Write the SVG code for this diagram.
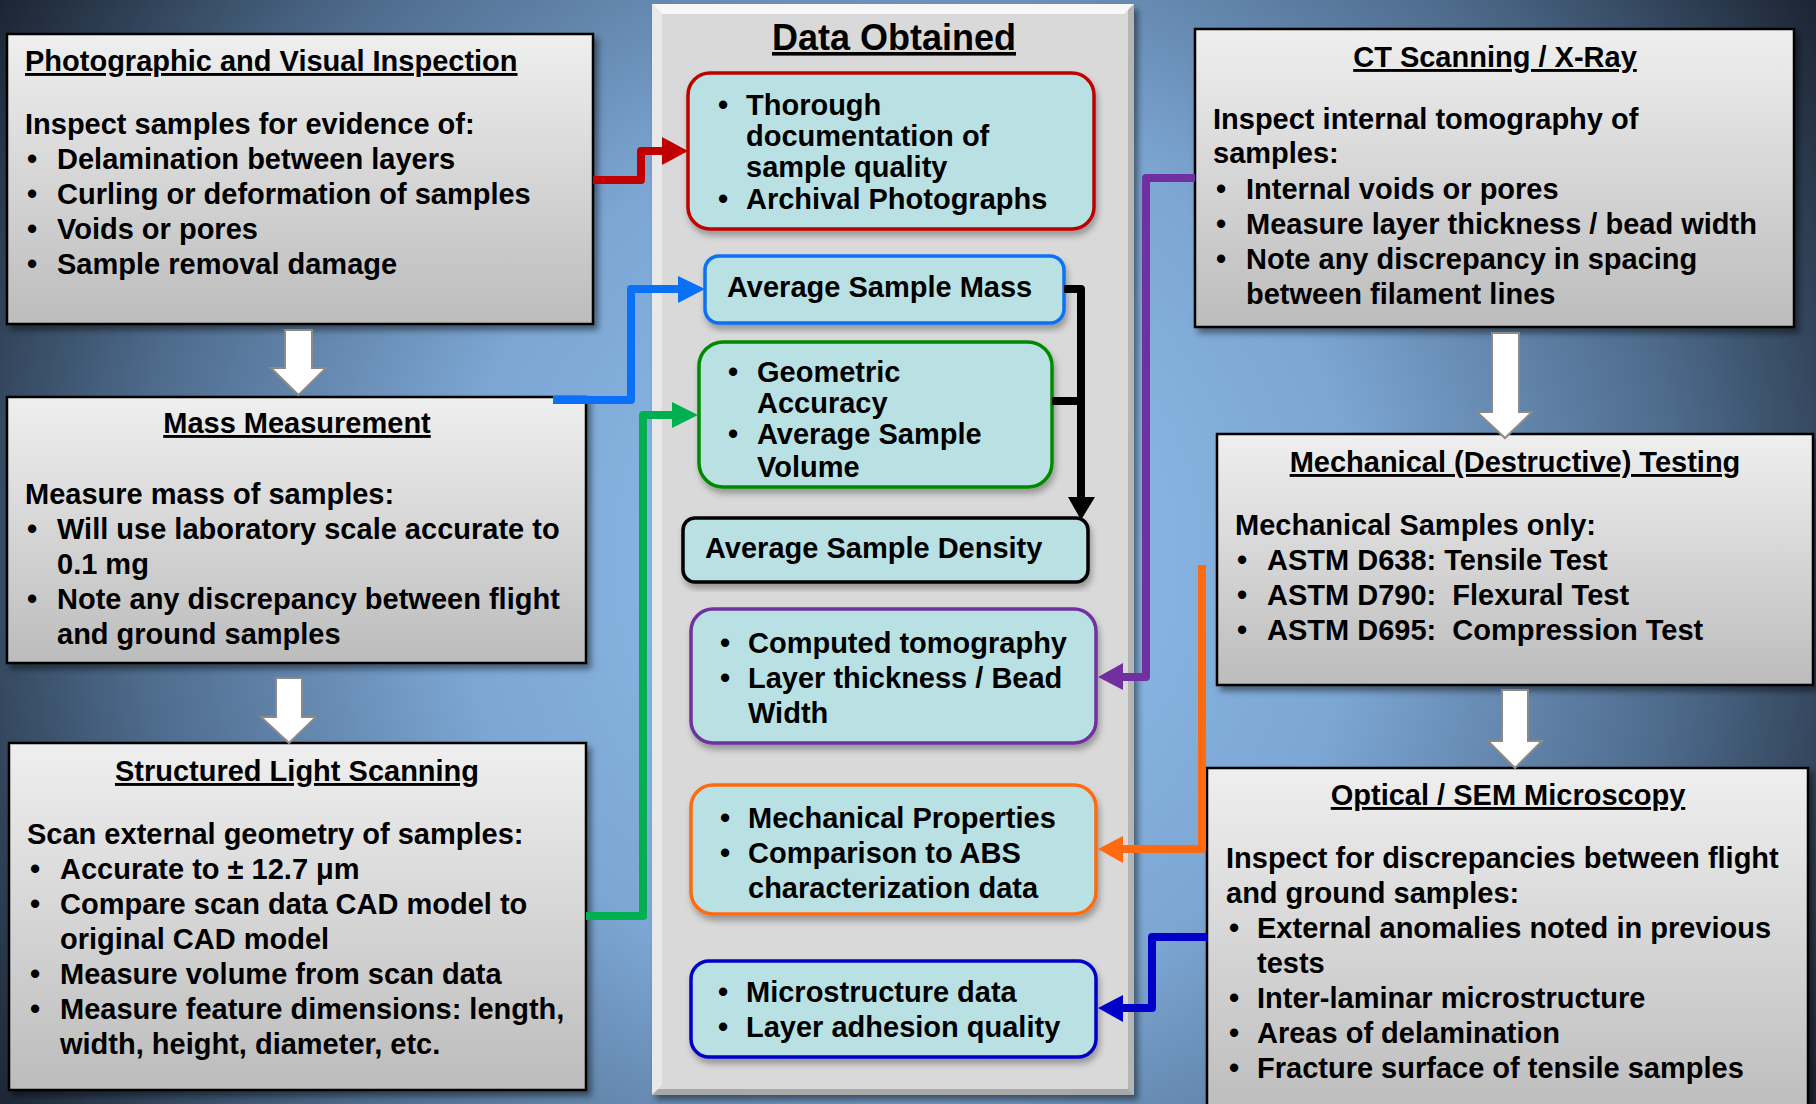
<svg xmlns="http://www.w3.org/2000/svg" width="1816" height="1104" viewBox="0 0 1816 1104">
<defs>
  <radialGradient id="bg" cx="908" cy="560" r="1080" gradientUnits="userSpaceOnUse">
    <stop offset="0" stop-color="#92c2f2"/>
    <stop offset="0.42" stop-color="#7ca6d3"/>
    <stop offset="0.72" stop-color="#4d6a8b"/>
    <stop offset="1" stop-color="#19212e"/>
  </radialGradient>
  <linearGradient id="gray" x1="0" y1="0" x2="0" y2="1">
    <stop offset="0" stop-color="#efefef"/>
    <stop offset="1" stop-color="#bcbcbc"/>
  </linearGradient>
  <filter id="sh" x="-5%" y="-5%" width="115%" height="115%">
    <feDropShadow dx="4" dy="5" stdDeviation="3" flood-color="#000" flood-opacity="0.45"/>
  </filter>
  <filter id="sh2" x="-5%" y="-5%" width="115%" height="120%">
    <feDropShadow dx="2" dy="5" stdDeviation="3" flood-color="#000" flood-opacity="0.3"/>
  </filter>
  <style>
    text { font-family: "Liberation Sans", Arial, sans-serif; font-weight: bold; font-size: 29px; fill: #000; white-space: pre; }
    .t { text-decoration: underline; }
    .c { text-anchor: middle; }
    .big { font-size: 36px; }
    .box { fill: url(#gray); stroke: #000; stroke-width: 2.5; filter: url(#sh); }
    .dbox { fill: #b9e0e3; stroke-width: 3.5; filter: url(#sh2); }
    .blk { fill: #fff; stroke: #8a8a8a; stroke-width: 2; }
    .ln { fill: none; stroke-width: 8; stroke-linejoin: round; }
  </style>
</defs>

<rect x="0" y="0" width="1816" height="1104" fill="url(#bg)"/>

<!-- center panel -->
<g id="panel">
  <rect x="652" y="4" width="482" height="1091" fill="#d9d9d9" filter="url(#sh)"/>
  <polygon points="652,4 1134,4 1124,14 662,14" fill="#f7f7f7"/>
  <polygon points="652,4 662,14 662,1085 652,1095" fill="#e8e8e8"/>
  <polygon points="1134,4 1134,1095 1128,1089 1128,10" fill="#b5b5b5"/>
  <polygon points="652,1095 1134,1095 1128,1089 658,1089" fill="#a8a8a8"/>
  <text class="c big t" x="894" y="50">Data Obtained</text>
</g>

<!-- left column -->
<g id="photo">
  <rect class="box" x="7" y="34" width="586" height="290"/>
  <text class="t" x="25" y="71">Photographic and Visual Inspection</text>
  <text x="25" y="134">Inspect samples for evidence of:</text>
  <text x="27" y="169">•</text><text x="57" y="169">Delamination between layers</text>
  <text x="27" y="204">•</text><text x="57" y="204">Curling or deformation of samples</text>
  <text x="27" y="239">•</text><text x="57" y="239">Voids or pores</text>
  <text x="27" y="274">•</text><text x="57" y="274">Sample removal damage</text>
</g>

<g id="mass">
  <rect class="box" x="7" y="397" width="579" height="266"/>
  <text class="c t" x="297" y="433">Mass Measurement</text>
  <text x="25" y="504">Measure mass of samples:</text>
  <text x="27" y="539">•</text><text x="57" y="539">Will use laboratory scale accurate to</text>
  <text x="57" y="574">0.1 mg</text>
  <text x="27" y="609">•</text><text x="57" y="609">Note any discrepancy between flight</text>
  <text x="57" y="644">and ground samples</text>
</g>

<g id="structured">
  <rect class="box" x="9" y="743" width="577" height="347"/>
  <text class="c t" x="297" y="781">Structured Light Scanning</text>
  <text x="27" y="844">Scan external geometry of samples:</text>
  <text x="30" y="879">•</text><text x="60" y="879">Accurate to ± 12.7 μm</text>
  <text x="30" y="914">•</text><text x="60" y="914">Compare scan data CAD model to</text>
  <text x="60" y="949">original CAD model</text>
  <text x="30" y="984">•</text><text x="60" y="984">Measure volume from scan data</text>
  <text x="30" y="1019">•</text><text x="60" y="1019">Measure feature dimensions: length,</text>
  <text x="60" y="1054">width, height, diameter, etc.</text>
</g>

<!-- right column -->
<g id="ct">
  <rect class="box" x="1195" y="29" width="599" height="298"/>
  <text class="c t" x="1495" y="67">CT Scanning / X-Ray</text>
  <text x="1213" y="129">Inspect internal tomography of</text>
  <text x="1213" y="163">samples:</text>
  <text x="1216" y="199">•</text><text x="1246" y="199">Internal voids or pores</text>
  <text x="1216" y="234">•</text><text x="1246" y="234">Measure layer thickness / bead width</text>
  <text x="1216" y="269">•</text><text x="1246" y="269">Note any discrepancy in spacing</text>
  <text x="1246" y="304">between filament lines</text>
</g>

<g id="mech">
  <rect class="box" x="1217" y="434" width="596" height="251"/>
  <text class="c t" x="1515" y="472">Mechanical (Destructive) Testing</text>
  <text x="1235" y="535">Mechanical Samples only:</text>
  <text x="1237" y="570">•</text><text x="1267" y="570">ASTM D638: Tensile Test</text>
  <text x="1237" y="605">•</text><text x="1267" y="605">ASTM D790:  Flexural Test</text>
  <text x="1237" y="640">•</text><text x="1267" y="640">ASTM D695:  Compression Test</text>
</g>

<g id="optical">
  <rect class="box" x="1207" y="768" width="601" height="350"/>
  <text class="c t" x="1508" y="805">Optical / SEM Microscopy</text>
  <text x="1226" y="868">Inspect for discrepancies between flight</text>
  <text x="1226" y="903">and ground samples:</text>
  <text x="1229" y="938">•</text><text x="1257" y="938">External anomalies noted in previous</text>
  <text x="1257" y="973">tests</text>
  <text x="1229" y="1008">•</text><text x="1257" y="1008">Inter-laminar microstructure</text>
  <text x="1229" y="1043">•</text><text x="1257" y="1043">Areas of delamination</text>
  <text x="1229" y="1078">•</text><text x="1257" y="1078">Fracture surface of tensile samples</text>
</g>

<!-- data boxes -->
<g id="d-red">
  <rect class="dbox" x="688" y="73" width="406" height="156" rx="22" stroke="#c00000"/>
  <text x="718" y="115">•</text><text x="746" y="115">Thorough</text>
  <text x="746" y="146">documentation of</text>
  <text x="746" y="177">sample quality</text>
  <text x="718" y="209">•</text><text x="746" y="209">Archival Photographs</text>
</g>
<g id="d-mass">
  <rect class="dbox" x="705" y="256" width="359" height="67" rx="14" stroke="#0a70f5"/>
  <text x="727" y="297">Average Sample Mass</text>
</g>
<g id="d-geom">
  <rect class="dbox" x="699" y="342" width="353" height="145" rx="24" stroke="#008a00"/>
  <text x="728" y="382">•</text><text x="757" y="382">Geometric</text>
  <text x="757" y="413">Accuracy</text>
  <text x="728" y="444">•</text><text x="757" y="444">Average Sample</text>
  <text x="757" y="477">Volume</text>
</g>
<g id="d-density">
  <rect class="dbox" x="683" y="518" width="405" height="64" rx="12" stroke="#000"/>
  <text x="705" y="558">Average Sample Density</text>
</g>
<g id="d-ct">
  <rect class="dbox" x="691" y="609" width="405" height="134" rx="22" stroke="#7030a0"/>
  <text x="720" y="653">•</text><text x="748" y="653">Computed tomography</text>
  <text x="720" y="688">•</text><text x="748" y="688">Layer thickness / Bead</text>
  <text x="748" y="723">Width</text>
</g>
<g id="d-mech">
  <rect class="dbox" x="691" y="785" width="405" height="129" rx="22" stroke="#ff6a10"/>
  <text x="720" y="828">•</text><text x="748" y="828">Mechanical Properties</text>
  <text x="720" y="863">•</text><text x="748" y="863">Comparison to ABS</text>
  <text x="748" y="898">characterization data</text>
</g>
<g id="d-micro">
  <rect class="dbox" x="691" y="961" width="405" height="96" rx="18" stroke="#0000c8"/>
  <text x="718" y="1002">•</text><text x="746" y="1002">Microstructure data</text>
  <text x="718" y="1037">•</text><text x="746" y="1037">Layer adhesion quality</text>
</g>

<!-- connectors -->
<g id="connectors">
  <polygon class="blk" points="285,330 312,330 312,368 326,368 298.5,395 271,368 285,368"/>
  <polygon class="blk" points="276,678 302,678 302,717 316,717 289,743 261,717 276,717"/>
  <polygon class="blk" points="1492,333 1519,333 1519,412 1532,412 1505,438 1477,412 1492,412"/>
  <polygon class="blk" points="1502,690 1528,690 1528,741 1542,741 1515,768 1488,741 1502,741"/>

  <path class="ln" stroke="#c00000" d="M593,180 H641 V151 H664"/>
  <polygon fill="#c00000" points="662,137 688,151 662,165"/>

  <path class="ln" stroke="#0a70f5" d="M553,400 H631 V289 H680"/>
  <polygon fill="#0a70f5" points="678,276 705,289 678,303"/>

  <path class="ln" stroke="#00b050" d="M586,916 H643 V415 H674"/>
  <polygon fill="#00b050" points="672,402 698,415 672,428"/>

  <path class="ln" stroke="#000" d="M1064,289 H1081 V500 M1052,401 H1081"/>
  <polygon fill="#000" points="1068,497 1095,497 1081,520"/>

  <path class="ln" stroke="#7030a0" d="M1195,178 H1146 V677 H1121"/>
  <polygon fill="#7030a0" points="1123,663 1098,677 1123,690"/>

  <path class="ln" stroke="#ff6a10" d="M1202,565 V849 H1121"/>
  <polygon fill="#ff6a10" points="1123,836 1098,849 1123,863"/>

  <path class="ln" stroke="#0000c8" d="M1207,937 H1152 V1008 H1121"/>
  <polygon fill="#0000c8" points="1123,995 1098,1008 1123,1022"/>
</g>
</svg>
